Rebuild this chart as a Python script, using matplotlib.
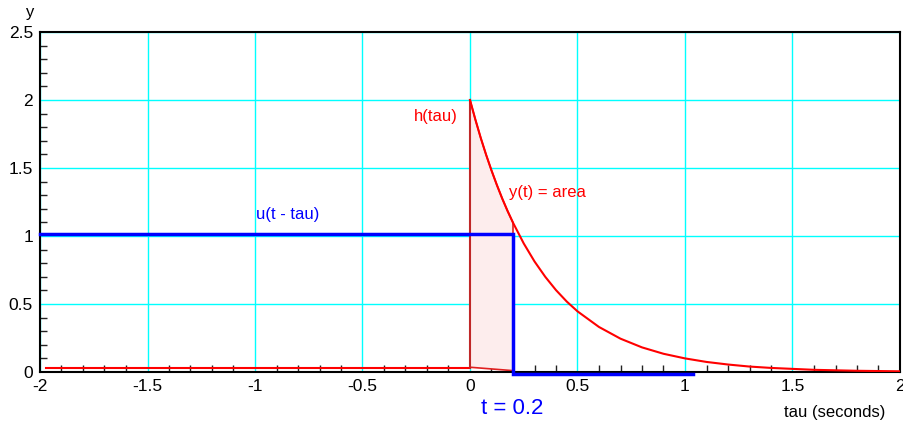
import matplotlib
matplotlib.use("Agg")
import matplotlib.pyplot as plt
from matplotlib.ticker import MultipleLocator

plt.rcParams['font.family'] = ['Liberation Sans', 'DejaVu Sans']

# h(tau)
tau = [0.0, 0.025, 0.05, 0.075, 0.1, 0.125, 0.15, 0.175, 0.2, 0.25, 0.3, 0.35, 0.4,
       0.45, 0.5, 0.6, 0.7, 0.8, 0.9, 1.0, 1.1, 1.2, 1.3, 1.4, 1.6, 1.8, 2.0]
h = [2.0, 1.856, 1.721, 1.597, 1.482, 1.375, 1.275, 1.183, 1.098, 0.945, 0.813,
     0.700, 0.602, 0.518, 0.446, 0.331, 0.245, 0.181, 0.134, 0.100, 0.074,
     0.055, 0.040, 0.030, 0.016, 0.009, 0.005]

# flat red segment for tau < 0
h_neg_x = [-1.97, 0.0]
h_neg_y = [0.032, 0.032]

# shifted step u(t - tau), t = 0.2
t_now = 0.2
u_x = [-2.0, 0.2, 0.2, 1.037]
u_y = [1.015, 1.015, -0.012, -0.012]
area_bottom = [0.035, 0.01]

fig = plt.figure(figsize=(9.04, 4.26), dpi=100)
ax = fig.add_axes([40 / 904, 1 - 372 / 426, 860 / 904, 340 / 426])

ax.set_xlim(-2, 2)
ax.set_ylim(0, 2.5)

# shaded area under h from 0 to t
fx = [0.0] + [x for x in tau if x <= t_now] + [t_now, 0.0]
fy = [area_bottom[0]] + [v for x, v in zip(tau, h) if x <= t_now] + [area_bottom[1], area_bottom[0]]
ax.fill(fx, fy, facecolor='#fdeded', edgecolor='#e02020', linewidth=1.2, zorder=2)

ax.plot(h_neg_x, h_neg_y, color='#ff0000', linewidth=1.5, zorder=3)
ax.plot([0, 0], [area_bottom[0], h[0]], color='#c02828', linewidth=1.5, zorder=3)
ax.plot(tau, h, color='#ff0000', linewidth=1.5, zorder=3)
ax.plot(u_x, u_y, color='#0000ff', linewidth=2.5, zorder=4, clip_on=False,
        solid_joinstyle='miter')

ax.xaxis.set_major_locator(MultipleLocator(0.5))
ax.yaxis.set_major_locator(MultipleLocator(0.5))
ax.xaxis.set_minor_locator(MultipleLocator(0.1))
ax.yaxis.set_minor_locator(MultipleLocator(0.1))
ax.grid(True, which='major', color='#00ffff', linewidth=1.0, zorder=0)
ax.set_axisbelow(True)
ax.tick_params(which='major', length=0, labelsize=12.5, pad=5)
ax.tick_params(which='minor', direction='in', length=5, width=1, color='#222222')
ax.set_xticks([-2, -1.5, -1, -0.5, 0, 0.5, 1, 1.5, 2])
ax.set_xticklabels(['-2', '-1.5', '-1', '-0.5', '0', '0.5', '1', '1.5', '2'])
ax.set_yticks([0, 0.5, 1, 1.5, 2, 2.5])
ax.set_yticklabels(['0', '0.5', '1', '1.5', '2', '2.5'])
for s in ax.spines.values():
    s.set_linewidth(1.5)
    s.set_color('black')

ax.text(-0.055, 1.88, 'h(tau)', color='#ff0000', fontsize=12, ha='right', va='center')
ax.text(0.18, 1.32, 'y(t) = area', color='#ff0000', fontsize=12, ha='left', va='center')
ax.text(-0.85, 1.16, 'u(t - tau)', color='#0000ff', fontsize=12, ha='center', va='center')
ax.text(0.195, -0.265, 't = 0.2', color='#0000ff', fontsize=16, ha='center', va='center',
        clip_on=False)
fig.text(835 / 904, 1 - 412 / 426, 'tau (seconds)', fontsize=12, ha='center', va='center')
fig.text(30 / 904, 1 - 12 / 426, 'y', fontsize=12, ha='center', va='center')

fig.savefig('out.png', dpi=100)
